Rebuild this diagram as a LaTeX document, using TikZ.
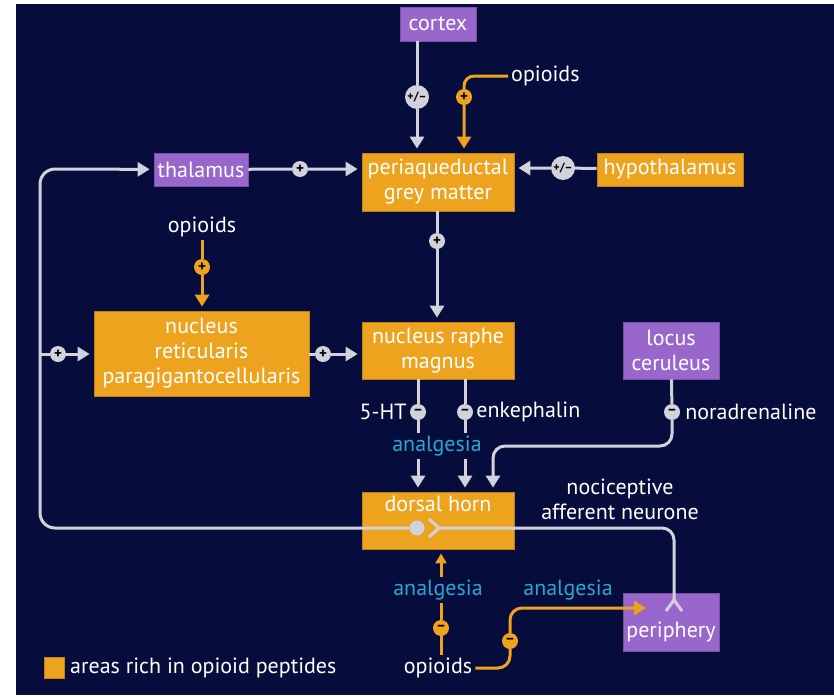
\documentclass[tikz,border=0pt]{standalone}
\usepackage{fontspec}
\setmainfont{PT Sans}
\usetikzlibrary{positioning,arrows.meta}
\definecolor{navy}{RGB}{6,13,61}
\definecolor{porange}{RGB}{237,163,30}
\definecolor{ppurple}{RGB}{153,102,204}
\definecolor{pgrey}{RGB}{210,210,220}
\definecolor{pcyan}{RGB}{43,166,207}
\tikzset{
  area/.style={fill=porange, draw=porange!80!black, line width=0.8pt, text=white, align=center,
    inner sep=0pt, font=\fontsize{22}{25}\selectfont},
  site/.style={area, fill=ppurple, draw=ppurple!80!black},
  txt/.style={text=white, align=center, inner sep=3pt, font=\fontsize{22}{25}\selectfont},
  ana/.style={txt, text=pcyan},
  gsign/.style={circle, fill=pgrey, text=black, inner sep=0pt, minimum size=16pt,
    font=\fontsize{15}{15}\selectfont\bfseries},
  gsignw/.style={gsign, minimum size=24pt, font=\fontsize{12}{12}\selectfont\bfseries},
  osign/.style={gsign, fill=porange},
  gline/.style={draw=pgrey, line width=3pt},
  oline/.style={draw=porange, line width=3pt},
  arr/.style={-{Triangle[length=12pt,width=14pt]}, shorten >=4pt},
  sarr/.style={-{Triangle[length=10pt,width=11pt]}, shorten >=4pt}
}
\begin{document}
\begin{tikzpicture}[x=1pt, y=-1pt]

  \useasboundingbox (0,0) rectangle (834,696);
  \fill[navy] (16,4) rectangle (834,695);

  \node[site, minimum width=76pt, minimum height=34pt] (cortex) at (438,24) {cortex};
  \node[site, minimum width=94pt, minimum height=33pt] (thal) at (201,169.5) {thalamus};
  \node[area, minimum width=152pt, minimum height=58pt] (pag) at (438,182) {periaqueductal\\grey matter};
  \node[area, minimum width=146pt, minimum height=33pt] (hyp) at (670,169.5) {hypothalamus};
  \node[area, minimum width=215pt, minimum height=85pt] (nrp) at (201.5,353.5) {nucleus\\reticularis\\paragigantocellularis};
  \node[area, minimum width=152pt, minimum height=57pt] (nrm) at (438,350.5) {nucleus raphe\\magnus};
  \node[site, minimum width=96pt, minimum height=57pt] (lc) at (671,350.5) {locus\\ceruleus};
  \node[area, minimum width=152pt, minimum height=57pt,
    label={[txt, anchor=north, yshift=-1pt]north:dorsal horn}] (dh) at (438,520.5) {};
  \node[site, minimum width=96pt, minimum height=58pt,
    label={[txt, anchor=south, yshift=6pt]south:periphery}] (per) at (671,622) {};

  \node[gsignw] (s1) at (417,97) {+/--};
  \node[osign] (s2) at (464,97) {+};
  \node[gsign] (s3) at (300,169) {+};
  \node[gsignw] (s4) at (563,168) {+/--};
  \node[gsign] (s5) at (437,241) {+};
  \node[osign] (s6) at (202,267) {+};
  \node[gsign] (s7) at (323,354) {+};
  \node[gsign] (s8) at (58,354) {+};
  \node[gsign] (s9) at (418,412) {--};
  \node[gsign] (s10) at (465,412) {--};
  \node[gsign] (s11) at (672,412) {--};
  \node[osign] (s12) at (441,628) {--};
  \node[osign] (s13) at (510,641) {--};

  \node[txt, anchor=west] (op1) at (508,76) {opioids};
  \node[txt] (op2) at (202,227) {opioids};
  \node[txt, left=0pt of s9] (ht) {5-HT};
  \node[txt, right=0pt of s10] (enk) {enkephalin};
  \node[txt, right=2pt of s11] (nad) {noradrenaline};
  \node[ana] (an1) at (437,446) {analgesia};
  \node[txt] (noc) at (620,499) {nociceptive\\afferent neurone};
  \node[ana] (an2) at (438,590) {analgesia};
  \node[ana] (an3) at (568,590) {analgesia};
  \node[txt] (op3) at (438,668) {opioids};
  \node[area, minimum width=20pt, minimum height=21pt] (key) at (54,667.5) {};
  \node[txt, anchor=west] (keytxt) at (67,668) {areas rich in opioid peptides};

  \node[circle, fill=pgrey, minimum size=15pt, inner sep=0pt] (dot) at (417,528) {};
  \coordinate (lt) at (40,169);
  \coordinate (lm) at (40,354);
  \coordinate (lb) at (40,528);
  \coordinate (dfork) at (439,528);
  \coordinate (pfork) at (674,600);
  \coordinate (nturn) at (493,446);
  \coordinate (pin) at (650,608);

  \draw[gline, arr] (cortex.south -| s1) -- (s1) -- (s1 |- pag.north);
  \draw[oline, arr, rounded corners=10pt] (op1.west) -| (s2) -- (s2 |- pag.north);
  \draw[gline, arr] (thal) -- (s3) -- (s3 -| pag.west);
  \draw[gline, arr] (hyp) -- (s4) -- (s4 -| pag.east);
  \draw[gline, arr] (pag.south -| s5) -- (s5) -- (s5 |- nrm.north);
  \draw[oline, arr] (op2) -- (s6) -- (s6 |- nrp.north);
  \draw[gline, arr] (nrp.east |- s7) -- (s7) -- (s7 -| nrm.west);
  \draw[gline, arr, rounded corners=15pt] (dot) -- (lb) -- (lt) -- (thal);
  \draw[gline, arr] (lm) -- (s8) -- (s8 -| nrp.west);

  \draw[gline] (nrm.south -| s9) -- (s9) -- (s9 |- an1.north);
  \draw[gline, arr] (s9 |- an1.south) -- (s9 |- dh.north);
  \draw[gline] (nrm.south -| s10) -- (s10) -- (s10 |- an1.north);
  \draw[gline, arr] (s10 |- an1.south) -- (s10 |- dh.north);
  \draw[gline] (lc) -- (s11);
  \draw[gline, arr, rounded corners=12pt] (s11) |- (nturn) -- (nturn |- dh.north);

  \draw[gline, rounded corners=12pt] (dfork) -| (pfork);
  \draw[gline] (dfork) ++(-10,-9) -- (dfork) -- ++(-10,9);
  \draw[gline] (pfork) ++(-8,11) -- (pfork) -- ++(8,11);

  \draw[oline] (op3.north -| s12) -- (s12) -- (s12 |- an2.south);
  \draw[oline, sarr] (s12 |- an2.north) -- (s12 |- dh.south);
  \draw[oline, arr, rounded corners=12pt] (op3.east) -| (s13) |- (pin);

\end{tikzpicture}
\end{document}
